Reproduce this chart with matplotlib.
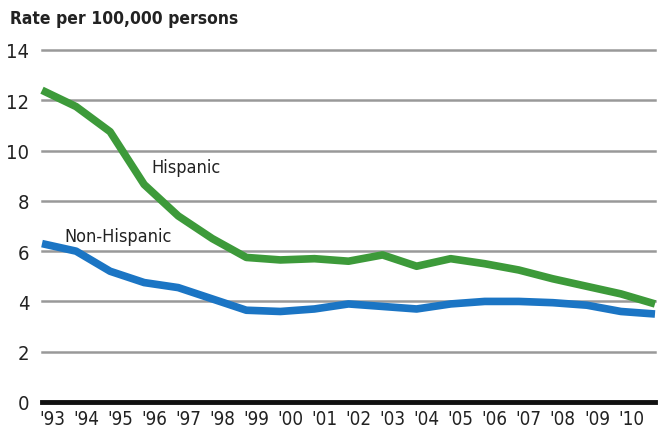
import matplotlib
matplotlib.use("Agg")
import matplotlib.pyplot as plt
from matplotlib.transforms import ScaledTranslation

years = list(range(1993, 2012))
hispanic = [12.4, 11.75, 10.75, 8.65, 7.4, 6.5, 5.75, 5.65, 5.7, 5.6, 5.85, 5.4, 5.7, 5.5, 5.25, 4.9, 4.6, 4.3, 3.9]
non_hispanic = [6.3, 6.0, 5.2, 4.75, 4.55, 4.1, 3.65, 3.6, 3.7, 3.9, 3.8, 3.7, 3.9, 4.0, 4.0, 3.95, 3.85, 3.6, 3.5]
tick_labels = ["'93", "'94", "'95", "'96", "'97", "'98", "'99", "'00", "'01", "'02",
               "'03", "'04", "'05", "'06", "'07", "'08", "'09", "'10"]
y_ticks = [0, 2, 4, 6, 8, 10, 12, 14]

plt.rcParams['font.family'] = ['DejaVu Sans']
plt.rcParams['font.stretch'] = 'condensed'

fig = plt.figure(figsize=(6.59, 4.35), dpi=100)
ax = fig.add_axes([42/659, 1 - 403/435, (655-42)/659, (403-51)/435])

for y in y_ticks[1:]:
    ax.axhline(y, color='#999999', lw=1.8, zorder=1, clip_on=False)
ax.axhline(0, color='#111111', lw=3.5, zorder=3, clip_on=False)

ax.plot(years, hispanic, color='#3d9a3a', lw=5.5, solid_capstyle='butt', solid_joinstyle='round', zorder=4, clip_on=False)
ax.plot(years, non_hispanic, color='#1b75c4', lw=5.5, solid_capstyle='butt', solid_joinstyle='round', zorder=4, clip_on=False)

for s in ax.spines.values():
    s.set_visible(False)
ax.set_yticks(y_ticks)
ax.set_yticklabels([str(v) for v in y_ticks], fontsize=14.5, color='#222222', fontstretch='condensed')
ax.tick_params(axis='y', length=0, pad=9)
ax.set_xticks(years[:-1])
ax.set_xticklabels(tick_labels, fontsize=13.5, color='#222222', ha='left', fontstretch='condensed')
ax.tick_params(axis='x', length=0, pad=5)
off = ScaledTranslation(-3/100, 0, fig.dpi_scale_trans)
for lab in ax.get_xticklabels():
    lab.set_transform(lab.get_transform() + off)
ax.set_xlim(1993, 2011)
ax.set_ylim(0, 14)

ax.text(1996.2, 9.35, "Hispanic", fontsize=13, color='#222222', ha='left', va='center', fontstretch='condensed')
ax.text(1993.65, 6.6, "Non-Hispanic", fontsize=13, color='#222222', ha='left', va='center', fontstretch='condensed')

fig.text(10/659, 1 - 19/435, "Rate per 100,000 persons", fontsize=12.5, fontweight='bold',
         color='#222222', ha='left', va='center', fontstretch='condensed')

fig.savefig("out.png", dpi=100)
